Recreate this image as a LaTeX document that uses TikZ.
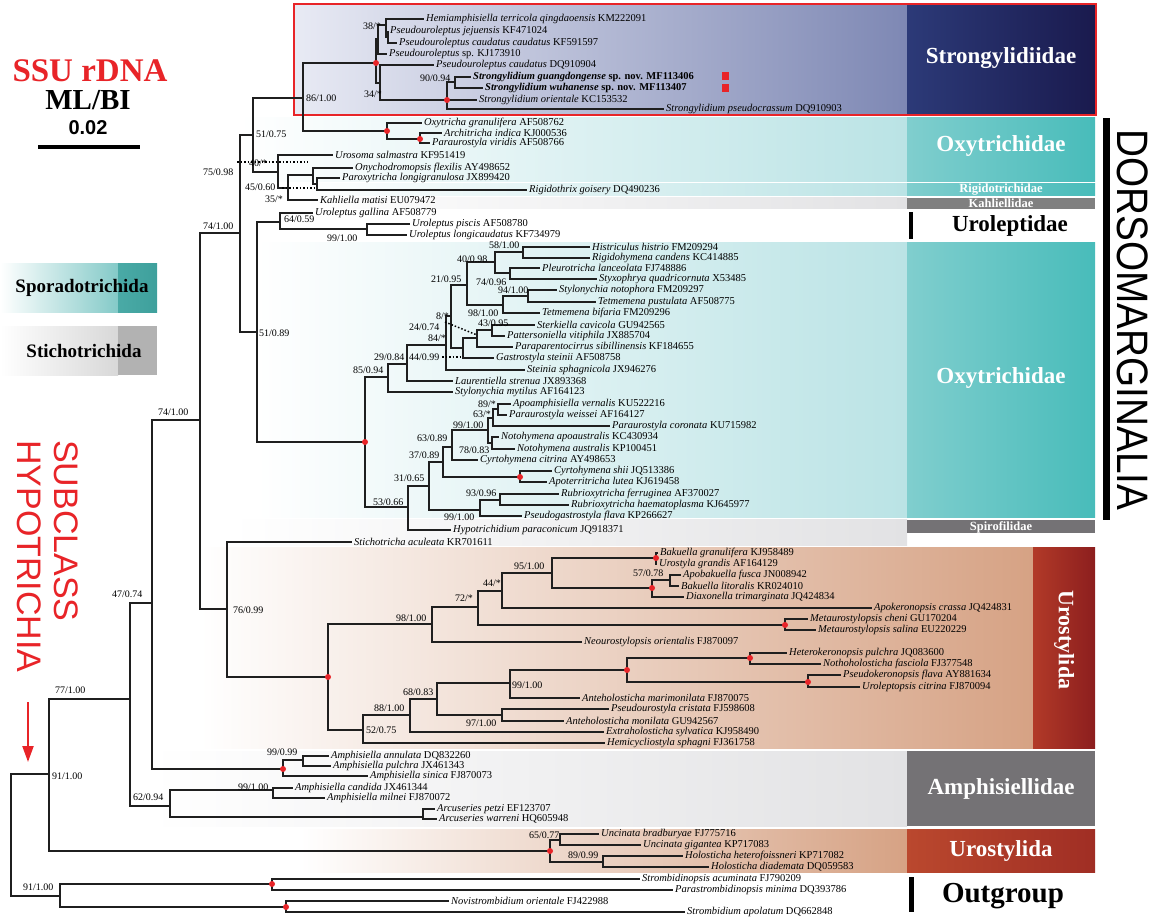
\documentclass[tikz,border=0pt]{standalone}
\usepackage{fontspec}
\usepackage{graphicx}
\setmainfont{Liberation Serif}
\newfontfamily\sansfont{Liberation Sans}
\usetikzlibrary{arrows.meta}
\definecolor{redmark}{RGB}{232,36,40}
\definecolor{strL}{RGB}{232,234,244}
\definecolor{strR}{RGB}{126,136,180}
\definecolor{strD1}{RGB}{44,58,120}
\definecolor{strD2}{RGB}{26,26,78}
\definecolor{tealL}{RGB}{186,227,229}
\definecolor{teal1}{RGB}{128,206,206}
\definecolor{teal2}{RGB}{72,188,186}
\definecolor{grayL}{RGB}{226,226,228}
\definecolor{kahl}{RGB}{128,128,128}
\definecolor{grayD}{RGB}{116,114,117}
\definecolor{salL}{RGB}{214,162,132}
\definecolor{uroD1}{RGB}{178,58,40}
\definecolor{uroD2}{RGB}{140,30,30}
\definecolor{uroL1}{RGB}{186,72,46}
\definecolor{uroL2}{RGB}{160,46,36}
\definecolor{sporL}{RGB}{132,202,200}
\definecolor{sporD1}{RGB}{74,170,166}
\definecolor{sporD2}{RGB}{62,160,156}
\definecolor{stiL}{RGB}{216,216,216}
\definecolor{stiD}{RGB}{178,178,178}
\begin{document}
\begin{tikzpicture}[x=1pt, y=-1pt,
  br/.style={line width=1.7pt, black!88},
  taxon/.style={anchor=west, inner xsep=2pt, inner ysep=0.5pt, font=\fontsize{10.5}{11}\selectfont},
  sup/.style={anchor=west, inner sep=0pt, font=\fontsize{10}{11}\selectfont},
  rdot/.style={circle, fill=redmark, inner sep=0pt, minimum size=6pt},
  sqmark/.style={rectangle, fill=redmark, inner sep=0pt, minimum size=7.5pt},
  famlbl/.style={font=\fontsize{23}{24}\selectfont\bfseries, text=white},
  smlbl/.style={font=\fontsize{12.5}{13}\selectfont\bfseries, text=white}]
\useasboundingbox (0,0) rectangle (1151,920);

\shade[left color=strL, right color=strR] (295,5) rectangle (907,114);
\shade[left color=strD1, right color=strD2] (907,5) rectangle (1095,114);
\draw[redmark, line width=1.6pt] (294,4) rectangle (1096,115);
\shade[left color=white, right color=tealL] (240,118) rectangle (907,182);
\shade[left color=teal1, right color=teal2] (907,118) rectangle (1095,182);
\shade[left color=white, right color=tealL] (300,184) rectangle (907,196);
\shade[left color=teal1, right color=teal2] (907,184) rectangle (1095,196);
\shade[left color=white, right color=grayL] (300,198) rectangle (907,209);
\fill[kahl] (907,198) rectangle (1095,209);
\shade[left color=white, right color=tealL] (257,242) rectangle (907,517);
\shade[left color=teal1, right color=teal2] (907,242) rectangle (1095,517);
\shade[left color=white, right color=grayL] (230,519) rectangle (907,545);
\fill[grayD] (907,520) rectangle (1095,533);
\shade[left color=white, right color=salL] (200,547) rectangle (1033,748);
\shade[left color=uroD1, right color=uroD2] (1033,547) rectangle (1095,748);
\shade[left color=white, right color=grayL] (150,751) rectangle (907,826);
\fill[grayD] (907,751) rectangle (1095,826);
\shade[left color=white, right color=salL] (300,829) rectangle (907,872);
\shade[left color=uroL1, right color=uroL2] (907,829) rectangle (1095,872);
\fill (909,212) rectangle (913,239);
\fill (909,877) rectangle (914,912);
\fill (1103,118) rectangle (1110,520);

\foreach \n/\x/\y/\spec/\accn in {
  t1/424/19/Hemiamphisiella terricola qingdaoensis/KM222091,
  t2/388/31/Pseudouroleptus jejuensis/KF471024,
  t3/397/43/Pseudouroleptus caudatus caudatus/KF591597,
  t4/387/54/Pseudouroleptus/sp. KJ173910,
  t5/434/65/Pseudouroleptus caudatus/DQ910904,
  t8/477/100/Strongylidium orientale/KC153532,
  t9/664/109/Strongylidium pseudocrassum/DQ910903,
  t10/422/123/Oxytricha granulifera/AF508762,
  t11/442/133/Architricha indica/KJ000536,
  t12/430/143/Paraurostyla viridis/AF508766,
  t13/333/155/Urosoma salmastra/KF951419,
  t14/353/168/Onychodromopsis flexilis/AY498652,
  t15/340/178/Paroxytricha longigranulosa/JX899420,
  t16/527/190/Rigidothrix goisery/DQ490236,
  t17/318/200/Kahliella matisi/EU079472,
  t18/313/213/Uroleptus gallina/AF508779,
  t19/410/224/Uroleptus piscis/AF508780,
  t20/407/235/Uroleptus longicaudatus/KF734979,
  t21/590/247/Histriculus histrio/FM209294,
  t22/590/258/Rigidohymena candens/KC414885,
  t23/540/268/Pleurotricha lanceolata/FJ748886,
  t24/597/279/Styxophrya quadricornuta/X53485,
  t25/557/290/Stylonychia notophora/FM209297,
  t26/596/302/Tetmemena pustulata/AF508775,
  t27/540/313/Tetmemena bifaria/FM209296,
  t28/535/325/Sterkiella cavicola/GU942565,
  t29/505/336/Pattersoniella vitiphila/JX885704,
  t30/513/347/Paraparentocirrus sibillinensis/KF184655,
  t31/494/358/Gastrostyla steinii/AF508758,
  t32/525/370/Steinia sphagnicola/JX946276,
  t33/453/381/Laurentiella strenua/JX893368,
  t34/453/392/Stylonychia mytilus/AF164123,
  t35/511/404/Apoamphisiella vernalis/KU522216,
  t36/507/415/Paraurostyla weissei/AF164127,
  t37/610/426/Paraurostyla coronata/KU715982,
  t38/499/437/Notohymena apoaustralis/KC430934,
  t39/515/449/Notohymena australis/KP100451,
  t40/478/460/Cyrtohymena citrina/AY498653,
  t41/552/471/Cyrtohymena shii/JQ513386,
  t42/547/482/Apoterritricha lutea/KJ619458,
  t43/559/494/Rubrioxytricha ferruginea/AF370027,
  t44/569/505/Rubrioxytricha haematoplasma/KJ645977,
  t45/522/516/Pseudogastrostyla flava/KP266627,
  t46/451/530/Hypotrichidium paraconicum/JQ918371,
  t47/352/542/Stichotricha aculeata/KR701611,
  t48/658/553/Bakuella granulifera/KJ958489,
  t49/657/564/Urostyla grandis/AF164129,
  t50/681/575/Apobakuella fusca/JN008942,
  t51/679/586/Bakuella litoralis/KR024010,
  t52/684/597/Diaxonella trimarginata/JQ424834,
  t53/872/608/Apokeronopsis crassa/JQ424831,
  t54/808/619/Metaurostylopsis cheni/GU170204,
  t55/816/630/Metaurostylopsis salina/EU220229,
  t56/582/642/Neourostylopsis orientalis/FJ870097,
  t57/787/653/Heterokeronopsis pulchra/JQ083600,
  t58/821/664/Nothoholosticha fasciola/FJ377548,
  t59/841/675/Pseudokeronopsis flava/AY881634,
  t60/860/687/Uroleptopsis citrina/FJ870094,
  t61/580/698/Anteholosticha marimonilata/FJ870075,
  t62/609/709/Pseudourostyla cristata/FJ598608,
  t63/564/721/Anteholosticha monilata/GU942567,
  t64/604/732/Extraholosticha sylvatica/KJ958490,
  t65/605/743/Hemicycliostyla sphagni/FJ361758,
  t66/329/756/Amphisiella annulata/DQ832260,
  t67/331/766/Amphisiella pulchra/JX461343,
  t68/368/776/Amphisiella sinica/FJ870073,
  t69/293/788/Amphisiella candida/JX461344,
  t70/325/798/Amphisiella milnei/FJ870072,
  t71/435/809/Arcuseries petzi/EF123707,
  t72/437/819/Arcuseries warreni/HQ605948,
  t73/599/834/Uncinata bradburyae/FJ775716,
  t74/641/845/Uncinata gigantea/KP717083,
  t75/683/856/Holosticha heterofoissneri/KP717082,
  t76/709/867/Holosticha diademata/DQ059583,
  t77/640/879/Strombidinopsis acuminata/FJ790209,
  t78/673/890/Parastrombidinopsis minima/DQ393786,
  t79/449/901/Novistrombidium orientale/FJ422988,
  t80/685/912/Strombidium apolatum/DQ662848}
  \node[taxon] (\n) at (\x,\y) {\textit{\spec} \accn};
\node[taxon] (t6) at (471,77) {\bfseries\textit{Strongylidium guangdongense} sp. nov. MF113406};
\node[taxon] (t7) at (483,88) {\bfseries\textit{Strongylidium wuhanense} sp. nov. MF113407};
\node[sqmark] (m1) at (725.5,76) {};
\node[sqmark] (m2) at (725.5,88) {};

\foreach \n/\x/\y in {P1/386/25, P1b/388/37, P2/378/39, P3/376/63, P4/380/83,
  S1/447/100, S2/455/82, n86/303/98, O1/387/131, O2/420/139, n51a/253/135,
  n45/278/172, n35/288/188, n313/313/175, n317/317/184, n75/240/233,
  n51b/257/332, U1/280/222, U2/367/229, NR/365/442, N85/388/377, N29/407/364,
  N24/446/345, N8/451/316, N21/467/285, N40/495/262, N58/523/252, N74/510/273,
  N98o/503/305, N94/528/296, N84/463/348, Npa/477/338, N43/492/330,
  N53/408/507, N31/429/486, N37/443/462, N63/452/447, N99/488/430,
  N63s/493/418, N89/498/409, N78/492/443, NC/520/477, N99b/480/510,
  N93/500/500, n74b/200/420, n47/152/603, n77/130/699, n91/49/774,
  root/11/835, n76/227/609, UR/328/677, N98u/432/624, N72/478/607,
  N44u/502/591, N95/552/573, B1/656/558, B2/652/588, N57/670/580,
  M1/785/625, N52/363/730, N88/410/715, N68/437/699, N99u/510/683,
  H0/627/670, H1/750/658, H2/808/682, N97/502/715, A1/283/769, A2/303/760,
  n62/170/806, A3/273/790, A4/423/817, UC/550/851, N65/560/840,
  N89h/603/862, OG/60/896, G1/272/884, G2/286/907}
  \coordinate (\n) at (\x,\y);

\foreach \a/\b in {P1/t1, P1/P1b, P1b/t2, P1b/t3, P2/P1, P2/t4, P3/P2, P3/P4,
  P4/t5, P4/S1, S1/S2, S1/t8, S1/t9, S2/t6, S2/t7, n86/P3, n86/O1, O1/t10,
  O1/O2, O2/t11, O2/t12, n51a/n86, n51a/n45, n45/t13, n45/n35, n35/n313,
  n35/t17, n313/t14, n313/n317, n317/t15, n317/t16, n75/n51a, n75/n51b,
  n51b/U1, n51b/NR, U1/t18, U1/U2, U2/t19, U2/t20, NR/N85, NR/N53, N85/N29,
  N85/t34, N29/N24, N29/t33, N24/N8, N24/t32, N8/N21, N8/N84, N21/N40,
  N21/N98o, N40/N58, N40/N74, N58/t21, N58/t22, N74/t23, N74/t24, N98o/N94,
  N98o/t27, N94/t25, N94/t26, N84/Npa, N84/t31, Npa/N43, Npa/t30, N43/t28,
  N43/t29, N53/N31, N53/t46, N31/N37, N31/N99b, N37/N63, N37/NC, N63/N99,
  N63/t40, N99/N63s, N99/N78, N63s/N89, N63s/t37, N89/t35, N89/t36, N78/t38,
  N78/t39, NC/t41, NC/t42, N99b/N93, N99b/t45, N93/t43, N93/t44, n74b/n75,
  n74b/n76, n47/n74b, n47/A1, n77/n47, n77/n62, n91/n77, n91/UC, root/n91,
  root/OG, n76/t47, n76/UR, UR/N98u, UR/N52, N98u/N72, N98u/t56, N72/N44u,
  N72/M1, N44u/N95, N44u/t53, N95/B1, N95/B2, B1/t48, B1/t49, B2/N57, B2/t52,
  N57/t50, N57/t51, M1/t54, M1/t55, N52/N88, N52/t65, N88/N68, N88/t64,
  N68/N99u, N68/N97, N99u/H0, N99u/t61, H0/H1, H0/H2, H1/t57, H1/t58, H2/t59,
  H2/t60, N97/t62, N97/t63, A1/A2, A1/t68, A2/t66, A2/t67, n62/A3, n62/A4,
  A3/t69, A3/t70, A4/t71, A4/t72, UC/N65, UC/N89h, N65/t73, N65/t74,
  N89h/t75, N89h/t76, OG/G1, OG/G2, G1/t77, G1/t78, G2/t79, G2/t80}
  \draw[br] (\a) |- (\b);

\foreach \c in {P3, S1, O1, O2, NR, NC, UR, B1, B2, M1, H0, H1, H2, A1, UC, G1, G2}
  \node[rdot] (d\c) at (\c) {};

\coordinate (d1a) at (237,162); \coordinate (d1b) at (308,162);
\coordinate (d2a) at (282,188); \coordinate (d2b) at (315,188);
\coordinate (d3a) at (445,322); \coordinate (d3b) at (477,335);
\coordinate (d4a) at (442,357); \coordinate (d4b) at (463,357);
\foreach \a/\b in {d1a/d1b, d2a/d2b, d3a/d3b, d4a/d4b}
  \draw[dotted, line width=1.5pt] (\a) -- (\b);

\foreach \x/\y/\a/\b [count=\i] in {363/26/38/*, 420/78/90/0.94, 364/94/34/*,
  306/98/86/1.00, 256/134/51/0.75, 203/172/75/0.98, 249/163/40/*,
  245/187/45/0.60, 265/199/35/*, 203/226/74/1.00, 284/219/64/0.59,
  327/238/99/1.00, 489/245/58/1.00, 457/259/40/0.98, 431/279/21/0.95,
  476/282/74/0.96, 498/290/94/1.00, 468/313/98/1.00, 436/316/8/*,
  409/327/24/0.74, 478/323/43/0.95, 428/338/84/*, 374/357/29/0.84,
  409/357/44/0.99, 353/370/85/0.94, 259/333/51/0.89, 478/404/89/*,
  473/414/63/*, 453/425/99/1.00, 417/438/63/0.89, 459/450/78/0.83,
  409/455/37/0.89, 394/478/31/0.65, 466/493/93/0.96, 444/517/99/1.00,
  373/502/53/0.66, 158/412/74/1.00, 112/594/47/0.74, 233/610/76/0.99,
  514/566/95/1.00, 483/583/44/*, 455/598/72/*, 633/573/57/0.78,
  396/618/98/1.00, 512/685/99/1.00, 403/692/68/0.83, 374/708/88/1.00,
  366/730/52/0.75, 466/723/97/1.00, 55/690/77/1.00, 52/776/91/1.00,
  267/752/99/0.99, 238/787/99/1.00, 133/797/62/0.94, 529/835/65/0.77,
  568/855/89/0.99, 23/887/91/1.00}
  \node[sup] (s\i) at (\x,\y) {\a/\b};

\node[famlbl] (strong) at (1001,58) {Strongylidiidae};
\node[famlbl] (oxy1) at (1001,146) {Oxytrichidae};
\node[smlbl] (rigido) at (1001,190) {Rigidotrichidae};
\node[smlbl] (kahli) at (1001,203.5) {Kahliellidae};
\node[famlbl, text=black] (urolep) at (1010,226) {Uroleptidae};
\node[famlbl] (oxy2) at (1001,378) {Oxytrichidae};
\node[smlbl] (spiro) at (1001,527) {Spirofilidae};
\node[famlbl, rotate=-90, font=\fontsize{22}{22}\selectfont\bfseries] (uro1) at (1064,640) {Urostylida};
\node[famlbl] (amphi) at (1001,789) {Amphisiellidae};
\node[famlbl] (uro2) at (1001,851) {Urostylida};
\node[font=\fontsize{29}{29}\selectfont\bfseries] (outg) at (1003,896) {Outgroup};
\node[rotate=-90, inner sep=0pt, font=\sansfont\fontsize{44}{44}\selectfont] (dorso) at (1133,320) {\scalebox{0.88}[1]{DORSOMARGINALIA}};

\node[inner sep=0pt, font=\fontsize{33}{33}\selectfont\bfseries, text=redmark] (title) at (90,71) {SSU rDNA};
\node[inner sep=0pt, font=\fontsize{29}{29}\selectfont\bfseries] (mlbi) at (88,100) {ML/BI};
\node[inner sep=0pt, font=\sansfont\fontsize{20}{20}\selectfont\bfseries] (scl) at (88,128) {0.02};
\coordinate (sb1) at (38,147); \coordinate (sb2) at (140,147);
\draw[line width=4pt] (sb1) -- (sb2);

\shade[left color=white, right color=sporL] (0,263) rectangle (118,312);
\shade[left color=sporD1, right color=sporD2] (118,263) rectangle (157,312);
\node[font=\fontsize{19}{19}\selectfont\bfseries] (spor) at (82,288) {Sporadotrichida};
\shade[left color=white, right color=stiL] (0,326) rectangle (118,375);
\fill[stiD] (118,326) rectangle (157,375);
\node[font=\fontsize{19}{19}\selectfont\bfseries] (stich) at (84,351) {Stichotrichida};

\node[rotate=-90, anchor=west, inner sep=0pt, text=redmark, font=\sansfont\fontsize{34}{34}\selectfont] (subcl) at (66,440) {SUBCLASS};
\node[rotate=-90, anchor=west, inner sep=0pt, text=redmark, font=\sansfont\fontsize{34}{34}\selectfont] (hypo) at (29,440) {HYPOTRICHIA};
\coordinate (ar1) at (28,702); \coordinate (ar2) at (28,762);
\draw[redmark, line width=2.2pt, -{Triangle[width=11pt,length=16pt]}] (ar1) -- (ar2);
\end{tikzpicture}
\end{document}
